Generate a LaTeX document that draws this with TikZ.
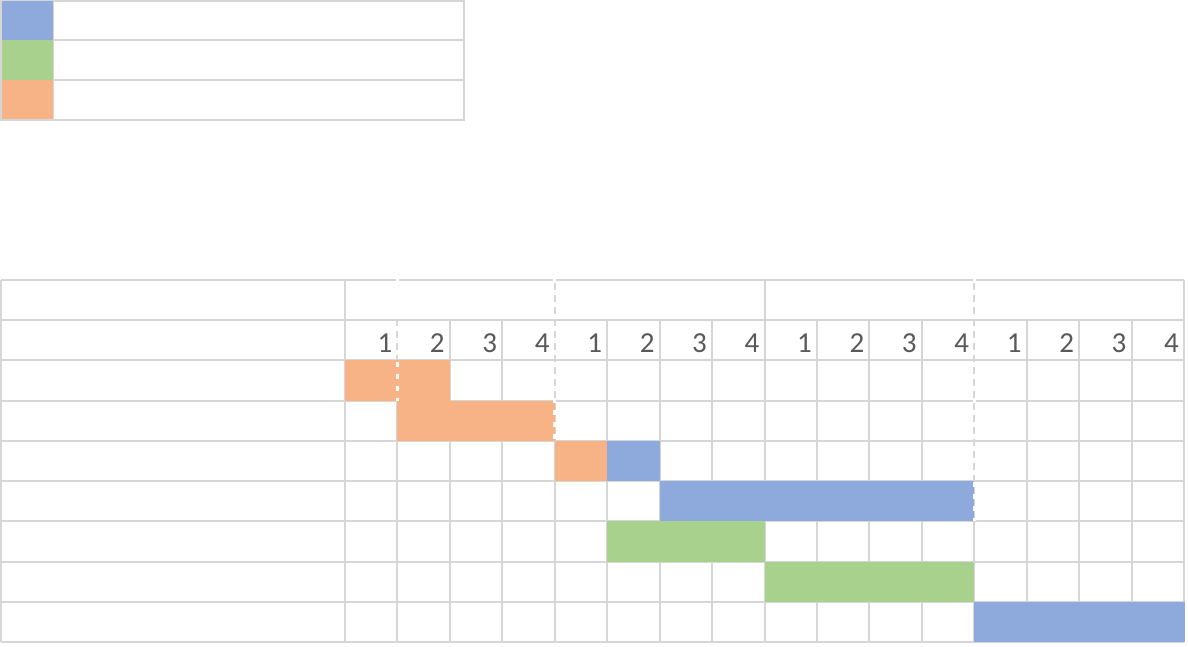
\documentclass[tikz,border=0pt]{standalone}
\usepackage{fontspec}
\setmainfont{Carlito}
\definecolor{gridc}{HTML}{D6D6D6}
\definecolor{barblue}{HTML}{8EA9DB}
\definecolor{bargreen}{HTML}{A9D18E}
\definecolor{barorange}{HTML}{F7B285}
\definecolor{numc}{HTML}{595959}
\begin{document}
\begin{tikzpicture}[x=1pt,y=-1pt,
  gridline/.style={draw=gridc, line width=2pt},
  pagebreak/.style={draw=white, line width=2.6pt, dash pattern=on 5pt off 7pt},
  numlabel/.style={anchor=base east, inner sep=0pt, text=numc, font=\fontsize{29}{29}\selectfont}]
\useasboundingbox (0,0) rectangle (1188,647);
\fill[white] (0,0) rectangle (1188,647);
% ---------- legend ----------
\draw[gridline] (1,1) rectangle (464,120);
\draw[gridline] (1,40) -- (464,40);
\draw[gridline] (1,80) -- (464,80);
\draw[gridline] (53,1) -- (53,120);
\fill[barblue]   (1.5,1.5) rectangle (53,40);
\fill[bargreen]  (1.5,40) rectangle (53,80);
\fill[barorange] (1.5,80) rectangle (53,119.5);
% ---------- table grid ----------
\def\cx#1{345+#1*52.44}
\def\ry#1{280+#1*40.22}
\foreach \j in {0,...,9}{
  \draw[gridline] (1,{\ry{\j}}) -- (1184,{\ry{\j}});
}
\draw[gridline] (1,280) -- (1,642);
\foreach \i in {0,4,8,12,16}{
  \draw[gridline] ({\cx{\i}},280) -- ({\cx{\i}},642);
}
\foreach \i in {1,2,3,5,6,7,9,10,11,13,14,15}{
  \draw[gridline] ({\cx{\i}},{\ry{1}}) -- ({\cx{\i}},642);
}
% ---------- bars ----------
\fill[barorange] ({\cx{0}},{\ry{2}}) rectangle ({\cx{2}},{\ry{3}});
\fill[barorange] ({\cx{1}},{\ry{3}}) rectangle ({\cx{4}},{\ry{4}});
\fill[barorange] ({\cx{4}},{\ry{4}}) rectangle ({\cx{5}},{\ry{5}});
\fill[barblue]   ({\cx{5}},{\ry{4}}) rectangle ({\cx{6}},{\ry{5}});
\fill[barblue]   ({\cx{6}},{\ry{5}}) rectangle ({\cx{12}},{\ry{6}});
\fill[bargreen]  ({\cx{5}},{\ry{6}}) rectangle ({\cx{8}},{\ry{7}});
\fill[bargreen]  ({\cx{8}},{\ry{7}}) rectangle ({\cx{12}},{\ry{8}});
\fill[barblue]   ({\cx{12}},{\ry{8}}) rectangle (1185,{\ry{9}});
% ---------- page-break marks ----------
\draw[pagebreak] ({\cx{1}},278) -- ({\cx{1}},{\ry{3}});
\draw[pagebreak] ({\cx{4}},278) -- ({\cx{4}},{\ry{4}});
\draw[pagebreak] ({\cx{12}},278) -- ({\cx{12}},{\ry{6}});
% ---------- quarter numbers ----------
\foreach \i in {1,...,16}{
  \pgfmathtruncatemacro{\q}{mod(\i-1,4)+1}
  \node[numlabel] (q\i) at ({\cx{\i}-5},352) {\q};
}
\end{tikzpicture}
\end{document}
